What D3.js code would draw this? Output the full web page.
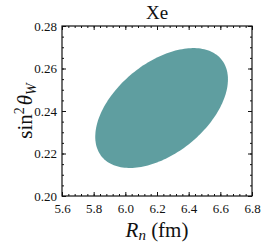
<!DOCTYPE html>
<html>
<head>
<meta charset="utf-8">
<script src="https://cdn.jsdelivr.net/npm/d3@7"></script>
<style>
  body { margin: 0; background: #fff; }
  svg text { font-family: "Liberation Serif", "DejaVu Serif", serif; fill: #111; }
</style>
</head>
<body>
<div id="app"></div>
<script>
// confidence region for Xe: centre, half-extents and correlation
const center = [6.229, 0.2414];
const halfExtent = [0.419, 0.0282];
const correlation = [0.479];
const xTicks = [5.6, 5.8, 6.0, 6.2, 6.4, 6.6, 6.8];
const yTicks = [0.20, 0.22, 0.24, 0.26, 0.28];
const title = "Xe";

function plotChart() {
    const svgWidth = 266;
    const svgHeight = 246;
    const margin = { top: 26, bottom: 50, left: 62, right: 14 };
    const width = svgWidth - margin.left - margin.right;
    const height = svgHeight - margin.top - margin.bottom;

    const svg = d3.select("#app").append("svg")
        .attr("width", svgWidth)
        .attr("height", svgHeight);

    const x = d3.scaleLinear().domain([5.6, 6.8]).range([0, width]);
    const y = d3.scaleLinear().domain([0.20, 0.28]).range([height, 0]);

    const chart = svg.append("g")
        .attr("transform", "translate(" + margin.left + "," + margin.top + ")");

    // ellipse outline
    const phi = Math.acos(correlation[0]);
    const pts = d3.range(0, 361, 2).map(function(deg) {
        const t = deg * Math.PI / 180;
        return [center[0] + halfExtent[0] * Math.cos(t),
                center[1] + halfExtent[1] * Math.cos(t - phi)];
    });
    chart.append("path")
        .datum(pts)
        .attr("fill", "#5f9ea0")
        .attr("d", d3.line().x(d => x(d[0])).y(d => y(d[1])).curve(d3.curveLinearClosed));

    const xMinor = d3.range(5.6, 6.8001, 0.04);
    const yMinor = d3.range(0.20, 0.28001, 0.005);

    function addAxis(axis, transform) {
        const g = chart.append("g").attr("transform", transform).call(axis);
        g.select(".domain").remove();
        g.selectAll("line").attr("stroke", "#111");
        return g;
    }

    // bottom
    addAxis(d3.axisBottom(x).tickValues(xMinor).tickSize(-2).tickFormat(""), "translate(0," + height + ")");
    const bx = addAxis(d3.axisBottom(x).tickValues(xTicks).tickSize(-4).tickPadding(8).tickFormat(d3.format(".1f")), "translate(0," + height + ")");
    bx.selectAll("text").attr("font-size", 13);
    // top
    addAxis(d3.axisTop(x).tickValues(xMinor).tickSize(-2).tickFormat(""), "translate(0,0)");
    addAxis(d3.axisTop(x).tickValues(xTicks).tickSize(-4).tickFormat(""), "translate(0,0)");
    // left
    addAxis(d3.axisLeft(y).tickValues(yMinor).tickSize(-2).tickFormat(""), "translate(0,0)");
    const ly = addAxis(d3.axisLeft(y).tickValues(yTicks).tickSize(-4).tickPadding(5).tickFormat(d3.format(".2f")), "translate(0,0)");
    ly.selectAll("text").attr("font-size", 13);
    // right
    addAxis(d3.axisRight(y).tickValues(yMinor).tickSize(-2).tickFormat(""), "translate(" + width + ",0)");
    addAxis(d3.axisRight(y).tickValues(yTicks).tickSize(-4).tickFormat(""), "translate(" + width + ",0)");

    chart.append("rect")
        .attr("width", width).attr("height", height)
        .attr("fill", "none").attr("stroke", "#111").attr("stroke-width", 1.2);

    svg.append("text")
        .attr("x", margin.left + width / 2).attr("y", 19)
        .attr("text-anchor", "middle").attr("font-size", 19)
        .text(title);

    const xl = svg.append("text")
        .attr("x", margin.left + width / 2).attr("y", 237)
        .attr("text-anchor", "middle").attr("font-size", 21);
    xl.append("tspan").attr("font-style", "italic").text("R");
    xl.append("tspan").attr("font-style", "italic").attr("font-size", 15).attr("dy", 3).text("n");
    xl.append("tspan").attr("dy", -3).text(" (fm)");

    const yl = svg.append("text")
        .attr("transform", "translate(32," + (margin.top + height / 2) + ") rotate(-90)")
        .attr("text-anchor", "middle").attr("font-size", 21);
    yl.append("tspan").text("sin");
    yl.append("tspan").attr("font-size", 14).attr("dy", -8).text("2");
    yl.append("tspan").attr("dy", 8).attr("dx", 2).attr("font-style", "italic").text("θ");
    yl.append("tspan").attr("font-style", "italic").attr("font-size", 14).attr("dy", 4).text("W");
}

plotChart();
</script>
</body>
</html>
